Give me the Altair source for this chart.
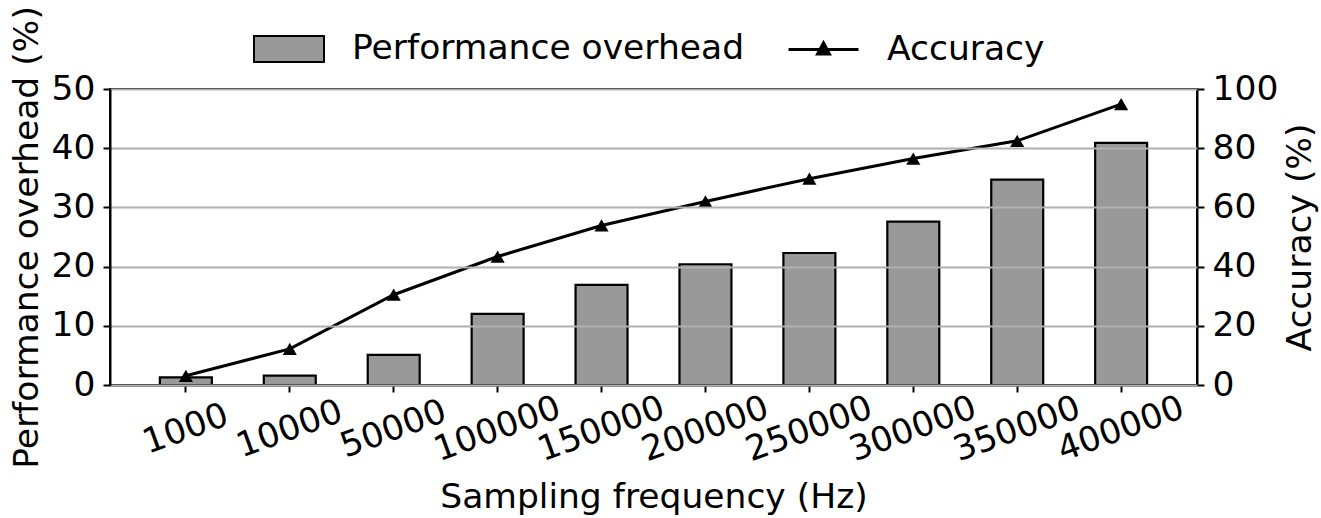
import altair as alt
import pandas as pd

freq = ["1000", "10000", "50000", "100000", "150000", "200000",
        "250000", "300000", "350000", "400000"]
overhead = [1.3, 1.6, 5.1, 12.0, 16.9, 20.4, 22.3, 27.6, 34.7, 40.9]
accuracy = [3.1, 12.2, 30.5, 43.4, 53.9, 62.0, 69.7, 76.5, 82.5, 94.9]
left_ticks = [0, 10, 20, 30, 40, 50]
right_ticks = [0, 20, 40, 60, 80, 100]

df = pd.DataFrame({
    "freq": freq,
    "overhead": overhead,
    "accuracy": accuracy,
    "s1": ["Performance overhead"] * len(freq),
    "s2": ["Accuracy"] * len(freq),
})

FONT = "DejaVu Sans"
FS = 34.5

x_enc = alt.X(
    "freq:N", sort=freq,
    scale=alt.Scale(paddingInner=0.5, paddingOuter=0.48),
    axis=alt.Axis(
        title="Sampling frequency (Hz)", labelAngle=340, labelAlign="center",
        labelBaseline="middle", labelPadding=37, tickSize=7, tickWidth=2,
        tickColor="black", domainColor="black", domainWidth=2,
        labelFontSize=FS, titleFontSize=FS, labelColor="black",
        titleColor="black", titleFontWeight="normal", titleY=112,
        titleBaseline="middle", grid=False,
    ),
)

bars = alt.Chart(df).mark_bar(stroke="black", strokeWidth=2.2).encode(
    x=x_enc,
    y=alt.Y(
        "overhead:Q", scale=alt.Scale(domain=[0, 50], nice=False),
        axis=alt.Axis(
            title="Performance overhead (%)", values=left_ticks, orient="left",
            grid=True, gridColor="#b0b0b0", gridWidth=2, tickSize=7,
            tickWidth=2, tickColor="black", domainColor="black",
            domainWidth=2, labelFontSize=FS, titleFontSize=FS,
            labelColor="black", titleColor="black", titleFontWeight="normal",
            labelPadding=8, titleX=-83, titleY=148, titleBaseline="middle",
            titleAngle=270, zindex=1,
        ),
    ),
    color=alt.Color(
        "s1:N", scale=alt.Scale(domain=["Performance overhead"], range=["#999999"]),
        legend=alt.Legend(
            title=None, orient="none", legendX=143, legendY=-76,
            symbolType="M-1,-0.37H1V0.37H-1Z", symbolSize=4900,
            symbolStrokeColor="black", symbolStrokeWidth=2,
            labelFontSize=FS, labelColor="black", labelOffset=27,
            labelLimit=1000, padding=0,
        ),
    ),
)

y_right = alt.Y(
    "accuracy:Q", scale=alt.Scale(domain=[0, 100], nice=False),
    axis=alt.Axis(
        title="Accuracy (%)", values=right_ticks, orient="right", grid=False,
        tickSize=7, tickWidth=2, tickColor="black", domainColor="black",
        domainWidth=2, labelFontSize=FS, titleFontSize=FS, labelColor="black",
        titleColor="black", titleFontWeight="normal", labelPadding=8,
        titleX=103, titleY=148, titleBaseline="middle", titleAngle=270,
    ),
)

line = alt.Chart(df).mark_line(color="black", strokeWidth=3).encode(
    x=alt.X("freq:N", sort=freq),
    y=y_right,
)

pts = alt.Chart(df).mark_point(
    shape="triangle-up", filled=True, size=200, opacity=1
).encode(
    x=alt.X("freq:N", sort=freq),
    y=alt.Y("accuracy:Q"),
    color=alt.Color(
        "s2:N", scale=alt.Scale(domain=["Accuracy"], range=["black"]),
        legend=alt.Legend(
            title=None, orient="none", legendX=677, legendY=-76,
            symbolType="M-1,0H1M0,-0.19L0.17,0.13L-0.17,0.13Z", symbolSize=4900,
            symbolStrokeColor="black", symbolFillColor="black",
            symbolStrokeWidth=3,
            labelFontSize=FS, labelColor="black", labelOffset=27,
            labelLimit=1000, padding=0,
        ),
    ),
)

right = alt.layer(line, pts)

chart = alt.layer(bars, right).resolve_scale(
    y="independent", color="independent"
).properties(
    width=1087, height=296,
    autosize=alt.AutoSizeParams(type="none"),
    padding={"left": 110, "top": 89, "right": 124, "bottom": 133},
).configure(
    font=FONT,
).configure_view(
    stroke="black", strokeWidth=2,
)

chart.save("out.html", embed_options={"renderer": "svg", "actions": False})
